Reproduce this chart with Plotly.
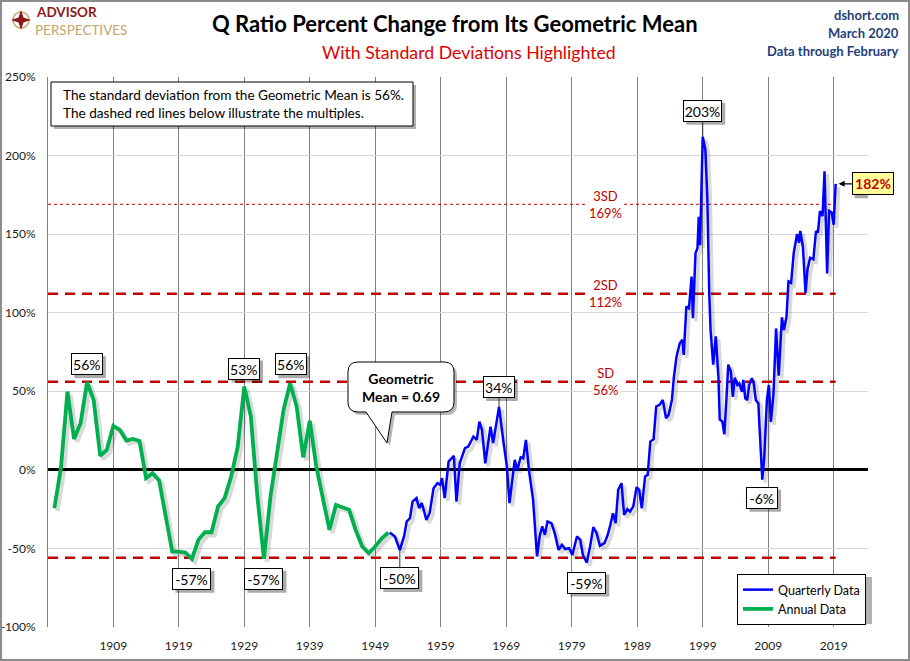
import plotly.graph_objects as go

# ---------------- data ----------------
annual_years = list(range(1900, 1952))
annual_vals = [-24.4, 1.1, 49.8, 19.7, 29.7, 55.8, 44.5, 8.9, 12.7, 28.0,
               25.4, 18.7, 19.7, 18.4, -5.3, -2.1, -6.8, -28.6, -52.0, -52.0,
               -52.6, -56.6, -44.5, -39.7, -39.7, -23.3, -18.0, -4.2, 14.8, 53.0,
               33.9, -17.0, -56.6, -17.0, 12.7, 38.2, 55.1, 40.3, 8.0, 31.2,
               2.1, -17.0, -38.2, -22.3, -23.8, -25.4, -38.2, -48.8, -53.0, -48.8,
               -43.5, -39.9]

q_years = [1951.2, 1952.0, 1952.75, 1953.4, 1953.8, 1954.3, 1954.7, 1955.3, 1955.7, 1956.1,
           1956.4, 1956.8, 1957.3, 1957.9, 1958.5, 1958.9, 1959.2, 1959.6, 1960.2, 1961.0,
           1961.4, 1961.9, 1962.7, 1963.2, 1964.0, 1964.5, 1964.9, 1965.3, 1965.8, 1966.3,
           1966.6, 1967.0, 1967.5, 1967.9, 1968.6, 1969.1, 1969.5, 1970.0, 1970.3, 1970.7,
           1971.2, 1971.6, 1972.0, 1972.5, 1973.1, 1973.7, 1974.1, 1974.5, 1974.9, 1975.3,
           1975.9, 1976.4, 1977.0, 1977.5, 1978.0, 1978.6, 1979.1, 1979.8, 1980.3, 1980.7,
           1981.3, 1981.8, 1982.3, 1982.8, 1983.3, 1984.0, 1984.5, 1984.9, 1985.3, 1985.7,
           1986.1, 1986.6, 1987.0, 1987.5, 1987.9, 1988.4, 1988.9, 1989.3, 1989.7, 1990.2,
           1990.6, 1991.0, 1991.5, 1991.9, 1992.4, 1992.9, 1993.4, 1993.8, 1994.3, 1994.6,
           1995.0, 1995.5, 1995.9, 1996.1, 1996.5, 1996.9, 1997.3, 1997.5, 1997.9, 1998.2,
           1998.4, 1998.6, 1999.0, 1999.4, 1999.7, 2000.0, 2000.2, 2000.6, 2001.0, 2001.4,
           2001.6, 2002.0, 2002.3, 2002.6, 2002.9, 2003.3, 2003.6, 2003.9, 2004.3, 2004.6,
           2005.0, 2005.2, 2005.5, 2005.8, 2006.1, 2006.5, 2006.8, 2007.1, 2007.5, 2007.7,
           2008.1, 2008.4, 2008.8, 2009.1, 2009.4, 2009.8, 2010.2, 2010.6, 2011.1, 2011.4,
           2011.8, 2012.1, 2012.5, 2012.9, 2013.4, 2013.7, 2013.9, 2014.3, 2014.7, 2015.0,
           2015.4, 2015.9, 2016.3, 2016.6, 2016.9, 2017.3, 2017.6, 2018.0, 2018.3, 2018.7,
           2019.0, 2019.3]
q_vals = [-39.9, -42.4, -51.0, -42.4, -32.9, -30.7, -20.2, -18.0, -24.4, -21.2,
          -25.4, -31.8, -27.6, -11.7, -8.5, -9.5, -5.3, -18.0, 5.3, 8.9,
          -20.2, 4.2, 13.8, 14.8, 21.2, 19.1, 30.7, 25.4, 4.2, 19.1,
          27.5, 17.0, 29.7, 40.0, 17.0, 2.1, -21.2, -2.1, 6.4, 0.0,
          8.0, 7.4, 19.1, -1.1, -19.1, -55.1, -42.4, -36.0, -41.3, -32.9,
          -33.9, -40.3, -50.9, -47.7, -50.4, -49.8, -54.1, -42.4, -44.5, -54.1,
          -59.0, -48.8, -36.5, -40.3, -48.3, -46.6, -41.3, -35.0, -27.6, -33.9,
          -12.7, -8.5, -28.6, -25.0, -26.5, -23.3, -11.0, -12.7, -24.4, -4.2,
          -3.2, 18.0, 19.5, 40.3, 41.3, 44.5, 32.9, 35.0, 44.5, 59.0,
          72.0, 80.6, 82.7, 73.2, 103.9, 102.8, 123.0, 96.5, 137.8, 141.0,
          161.0, 143.0, 212.0, 204.0, 174.0, 112.0, 89.0, 67.0, 85.0, 59.0,
          32.0, 30.7, 22.7, 43.3, 67.0, 62.5, 46.5, 58.6, 54.0, 55.0,
          49.7, 57.2, 45.5, 44.4, 54.0, 58.3, 55.0, 44.4, 42.3, 25.2,
          -6.3, 8.2, 44.4, 54.0, 30.5, 47.6, 90.0, 60.0, 97.0, 89.0,
          97.6, 120.0, 119.0, 138.0, 150.0, 144.5, 152.0, 142.0, 112.6, 127.5,
          135.0, 134.0, 152.0, 151.0, 164.7, 161.5, 190.0, 125.0, 164.7, 163.7,
          156.0, 182.0]

sd_levels = [56, 112, 169]
sd_labels = ["SD", "2SD", "3SD"]
x_ticks = list(range(1909, 2020, 10))
y_ticks = list(range(-100, 251, 50))

# point labels: (x, y, text)
point_labels = [
    (1905, 55.8, "56%"),
    (1929, 53.0, "53%"),
    (1936, 55.1, "56%"),
    (1921, -56.6, "-57%"),
    (1932, -56.6, "-57%"),
    (1952.75, -51.0, "-50%"),
    (1967.9, 40.0, "34%"),
    (1981.3, -59.0, "-59%"),
    (2008.1, -6.3, "-6%"),
    (1999.0, 212.0, "203%"),
]
# label offsets in pixels (ax, ay, draw connector)
label_offsets = [(0, -18, False), (0, -18, False), (1, -19, False), (0, 20, False), (0, 20, False),
                 (0, 28, True), (0, -20, True), (0, 20, False), (0, 18, False), (0, -26, True)]

# ---------------- geometry ----------------
W, H = 910, 661
L, R, T, B = 48, 868, 77, 627
PXY = 6.549           # px per year
X0 = 1909 + (L - 113.3) / PXY
X1 = 1909 + (R - 113.3) / PXY
PPV = (B - T) / 350.0  # px per percent

def px(x):
    return (x - L) / (R - L)

def py(y):
    return (B - y) / (B - T)

FONT = "Lato, Carlito, Calibri, sans-serif"

fig = go.Figure()

# shadows for lines
sdx = 3 / PXY
sdy = -3 / PPV
fig.add_trace(go.Scatter(x=[v + sdx for v in annual_years], y=[v + sdy for v in annual_vals],
                         mode="lines", line=dict(color="rgba(0,0,0,0.15)", width=4.5),
                         showlegend=False, hoverinfo="skip"))
fig.add_trace(go.Scatter(x=[v + sdx for v in q_years], y=[v + sdy for v in q_vals],
                         mode="lines", line=dict(color="rgba(0,0,0,0.15)", width=3.5),
                         showlegend=False, hoverinfo="skip"))

fig.add_trace(go.Scatter(x=q_years, y=q_vals, mode="lines", name="Quarterly Data",
                         line=dict(color="#0000FF", width=2.5)))
fig.add_trace(go.Scatter(x=annual_years, y=annual_vals, mode="lines", name="Annual Data",
                         line=dict(color="#00B050", width=3.8)))

shapes = []
annotations = []

# SD lines
x_end = q_years[-1]
for lvl, lab in zip(sd_levels, sd_labels):
    if lab == "3SD":
        shapes.append(dict(type="line", xref="x", yref="y", x0=X0, x1=x_end, y0=lvl, y1=lvl,
                           line=dict(color="#C00000", width=1, dash="3px,3px"), layer="between"))
    else:
        shapes.append(dict(type="line", xref="x", yref="y", x0=X0, x1=x_end, y0=lvl, y1=lvl,
                           line=dict(color="#C00000", width=2.5, dash="10px,7px"), layer="between"))
    annotations.append(dict(x=1984.2, y=lvl, xref="x", yref="y", showarrow=False,
                            xanchor="center", yanchor="middle",
                            text=f"{lab}<br>{lvl}%", bgcolor="white", borderpad=1,
                            font=dict(family=FONT, size=13, color="#C00000")))
shapes.append(dict(type="line", xref="x", yref="y", x0=X0, x1=x_end, y0=-sd_levels[0], y1=-sd_levels[0],
                   line=dict(color="#C00000", width=2.5, dash="10px,7px"), layer="between"))


def shadow_rect(x, y, ax, ay, w, h, off=3):
    # pixel-sized rectangle anchored at a data point
    return dict(type="rect", xref="x", yref="y", xsizemode="pixel", ysizemode="pixel",
                xanchor=x, yanchor=y,
                x0=ax - w / 2 + off, x1=ax + w / 2 + off,
                y0=-ay - off - h / 2, y1=-ay - off + h / 2,
                fillcolor="rgba(0,0,0,0.33)", line=dict(width=0), layer="above")


# point labels
BH = 22
for (x, y, t), (ax, ay, conn) in zip(point_labels, label_offsets):
    w = 7.5 * len(t) + 9
    shapes.append(shadow_rect(x, y, ax, ay, w, BH))
    annotations.append(dict(x=x, y=y, xref="x", yref="y", text=t, showarrow=True,
                            ax=ax, ay=ay, arrowhead=0, arrowwidth=1,
                            arrowcolor="#333333" if conn else "rgba(0,0,0,0)",
                            width=w - 4, height=BH - 4,
                            bgcolor="white", bordercolor="black", borderwidth=1,
                            borderpad=1, font=dict(family=FONT, size=14, color="black")))

# last value label
lx, ly = q_years[-1], q_vals[-1]
shapes.append(shadow_rect(lx, ly, 37, 0, 42, 23))
annotations.append(dict(x=lx, y=ly, xref="x", yref="y", text=f"<b>{ly:.0f}%</b>", showarrow=True,
                        ax=37, ay=0, arrowhead=2, arrowsize=1, arrowwidth=1.2, arrowcolor="black",
                        standoff=3, width=38, height=19,
                        bgcolor="#FFFF99", bordercolor="black", borderwidth=1,
                        borderpad=1, font=dict(family=FONT, size=14, color="#C00000")))

# top-left text box
shapes.append(dict(type="rect", xref="paper", yref="paper", x0=px(54), x1=px(416), y0=py(85), y1=py(129),
                   fillcolor="rgba(0,0,0,0.3)", line=dict(width=0), layer="above"))
shapes.append(dict(type="rect", xref="paper", yref="paper", x0=px(51), x1=px(413), y0=py(82), y1=py(126),
                   fillcolor="white", line=dict(color="black", width=1), layer="above"))
annotations.append(dict(x=px(61), y=py(104), xref="paper", yref="paper", xanchor="left", yanchor="middle",
                        align="left", showarrow=False,
                        text="The standard deviation from the Geometric Mean is 56%.<br>The dashed red lines below illustrate the multiples.",
                        font=dict(family=FONT, size=13.6, color="black")))

# Geometric mean callout
def callout_path(dx=0, dy=0):
    x0, x1, y0, y1, r = 348 + dx, 454 + dx, 362 + dy, 412 + dy, 10

    def P(x, y):
        return f"{px(x):.5f},{py(y):.5f}"
    return (f"M {P(x0 + r, y0)} L {P(x1 - r, y0)} Q {P(x1, y0)} {P(x1, y0 + r)} "
            f"L {P(x1, y1 - r)} Q {P(x1, y1)} {P(x1 - r, y1)} "
            f"L {P(392 + dx, y1)} L {P(387 + dx, 443 + dy)} L {P(366 + dx, y1)} "
            f"L {P(x0 + r, y1)} Q {P(x0, y1)} {P(x0, y1 - r)} "
            f"L {P(x0, y0 + r)} Q {P(x0, y0)} {P(x0 + r, y0)} Z")

shapes.append(dict(type="path", xref="paper", yref="paper", path=callout_path(3, 3),
                   fillcolor="rgba(0,0,0,0.28)", line=dict(width=0), layer="above"))
shapes.append(dict(type="path", xref="paper", yref="paper", path=callout_path(),
                   fillcolor="white", line=dict(color="black", width=1), layer="above"))
annotations.append(dict(x=px(401), y=py(387), xref="paper", yref="paper", showarrow=False,
                        xanchor="center", yanchor="middle",
                        text="<b>Geometric<br>Mean = 0.69</b>",
                        font=dict(family=FONT, size=14, color="black")))

# legend shadow
shapes.append(dict(type="rect", xref="paper", yref="paper", x0=px(740), x1=px(872), y0=py(577), y1=py(624),
                   fillcolor="rgba(0,0,0,0.3)", line=dict(width=0), layer="above"))

# titles
annotations.append(dict(x=px(455), y=py(24), xref="paper", yref="paper", showarrow=False,
                        xanchor="center", yanchor="middle",
                        text="<b>Q Ratio Percent Change from Its Geometric Mean</b>",
                        font=dict(family=FONT, size=22, color="black")))
annotations.append(dict(x=px(469), y=py(53), xref="paper", yref="paper", showarrow=False,
                        xanchor="center", yanchor="middle",
                        text="With Standard Deviations Highlighted",
                        font=dict(family=FONT, size=17.7, color="#E00000")))
for i, t in enumerate(["dshort.com", "March 2020", "Data through February"]):
    annotations.append(dict(x=px(901), y=py(15 + 18 * i), xref="paper", yref="paper", showarrow=False,
                            xanchor="right", yanchor="middle", text=f"<b>{t}</b>",
                            font=dict(family=FONT, size=13, color="#1F3F7A")))

# logo
annotations.append(dict(x=px(35), y=py(12), xref="paper", yref="paper", showarrow=False,
                        xanchor="left", yanchor="middle", borderpad=0,
                        text="<b>ADVISOR</b>", font=dict(family=FONT, size=13.5, color="#8B1A1A")))
annotations.append(dict(x=px(34), y=py(30), xref="paper", yref="paper", showarrow=False,
                        xanchor="left", yanchor="middle", borderpad=0,
                        text="PERSPECTIVES", font=dict(family=FONT, size=13.5, color="#C4A46A")))
shapes.append(dict(type="circle", xref="paper", yref="paper", x0=px(13), x1=px(29), y0=py(12), y1=py(28),
                   line=dict(color="#C4A46A", width=1.5), fillcolor="rgba(0,0,0,0)", layer="above"))
cx, cy = 21, 20
star = (f"M {px(cx):.5f},{py(cy-10):.5f} L {px(cx+2.5):.5f},{py(cy-2.5):.5f} L {px(cx+10):.5f},{py(cy):.5f} "
        f"L {px(cx+2.5):.5f},{py(cy+2.5):.5f} L {px(cx):.5f},{py(cy+10):.5f} L {px(cx-2.5):.5f},{py(cy+2.5):.5f} "
        f"L {px(cx-10):.5f},{py(cy):.5f} L {px(cx-2.5):.5f},{py(cy-2.5):.5f} Z")
shapes.append(dict(type="path", xref="paper", yref="paper", path=star, fillcolor="#8B1A1A",
                   line=dict(width=0), layer="above"))

# outer border
shapes.append(dict(type="rect", xref="paper", yref="paper", x0=px(1), x1=px(909), y0=py(1), y1=py(660),
                   line=dict(color="#8C8C8C", width=2), fillcolor="rgba(0,0,0,0)", layer="above"))

fig.update_layout(
    width=W, height=H,
    margin=dict(l=L, r=W - R, t=T, b=H - B, pad=0, autoexpand=False),
    paper_bgcolor="white", plot_bgcolor="white",
    font=dict(family=FONT, size=12, color="#1a1a1a"),
    showlegend=True,
    legend=dict(x=px(737), y=py(574), xanchor="left", yanchor="top",
                bgcolor="white", bordercolor="black", borderwidth=1,
                font=dict(family=FONT, size=12.5, color="black"), itemwidth=30,
                tracegroupgap=0),
    shapes=shapes, annotations=annotations,
    xaxis=dict(range=[X0, X1], tickmode="array", tickvals=x_ticks, ticktext=[str(v) for v in x_ticks],
               showgrid=True, gridcolor="#808080", gridwidth=1, zeroline=False, showline=False,
               automargin=False,
               ticks="", ticklabelstandoff=10, tickfont=dict(size=12)),
    yaxis=dict(range=[-100, 250], tickmode="array", tickvals=y_ticks, ticktext=[f"{v}%" for v in y_ticks],
               showgrid=True, gridcolor="#D9D9D9", gridwidth=1, zeroline=True, zerolinecolor="black",
               zerolinewidth=2.5, showline=True, linecolor="#808080", linewidth=1,
               automargin=False,
               ticks="", ticklabelstandoff=9, tickfont=dict(size=12)),
)

fig.write_html("out.html")
